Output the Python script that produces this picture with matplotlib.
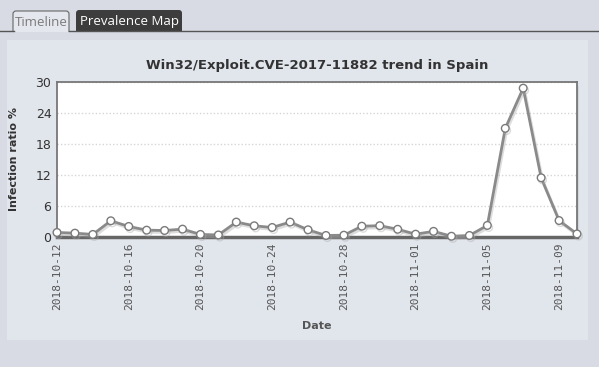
import matplotlib
matplotlib.use('Agg')
import matplotlib.pyplot as plt
import matplotlib.patheffects as pe
from matplotlib.patches import Rectangle, FancyBboxPatch
import pandas as pd

# data
dates = pd.date_range('2018-10-12', '2018-11-10', freq='D')
infection_ratio = [0.78, 0.65, 0.4, 3.05, 1.95, 1.23, 1.17, 1.43, 0.4, 0.3,
                   2.8, 2.08, 1.75, 2.8, 1.3, 0.2, 0.25, 2.0, 2.1, 1.4,
                   0.45, 1.0, 0.05, 0.2, 2.15, 21.0, 28.8, 11.4, 3.1, 0.5]
y_ticks = [0, 6, 12, 18, 24, 30]
title = 'Win32/Exploit.CVE-2017-11882 trend in Spain'

W, H = 599, 367
fig = plt.figure(figsize=(W / 100, H / 100), dpi=100)
fig.patch.set_facecolor('#d8dbe3')

# background decoration (tabs and panel) in pixel coordinates
bg = fig.add_axes([0, 0, 1, 1])
bg.set_xlim(0, W)
bg.set_ylim(H, 0)
bg.axis('off')
bg.add_patch(Rectangle((7, 40), 581, 300, facecolor='#e1e5ec', edgecolor='none'))
bg.add_patch(FancyBboxPatch((13, 11), 56, 24, boxstyle='round,pad=0,rounding_size=3',
                            facecolor='#e4e7ee', edgecolor='#666666', lw=0.8))
bg.text(41, 22, 'Timeline', fontsize=9.5, color='#7a7a7a', ha='center', va='center',
        family='Open Sans')
bg.add_patch(FancyBboxPatch((76, 10), 106, 25, boxstyle='round,pad=0,rounding_size=3',
                            facecolor='#3d3d3d', edgecolor='none'))
bg.add_patch(Rectangle((0, 31.5), W, 10, facecolor='#d8dbe3', edgecolor='none'))
bg.plot([0, 14], [31, 31], color='#555555', lw=1)
bg.plot([69, W], [31, 31], color='#555555', lw=1)
bg.text(129, 22, 'Prevalence Map', fontsize=9.5, color='white', ha='center', va='center',
        family='Open Sans')
bg.add_patch(Rectangle((7, 40), 581, 300, facecolor='#e1e5ec', edgecolor='none'))
# plot shadow
bg.add_patch(FancyBboxPatch((58.5, 83.5), 520, 155, boxstyle='round,pad=0,rounding_size=4',
                            facecolor='#c4c8d0', edgecolor='none'))

ax = fig.add_axes([57 / W, (H - 236.5) / H, 520 / W, 154.5 / H])
ax.set_facecolor('white')
ax.plot(dates, infection_ratio, color='#8a8a8a', lw=2, marker='o', markersize=5.5,
        markerfacecolor='white', markeredgecolor='#7a7a7a', markeredgewidth=1,
        path_effects=[pe.SimpleLineShadow(offset=(1, -1.5), shadow_color='#aaaaaa', alpha=0.4),
                      pe.Normal()], clip_on=False, zorder=3)

ax.set_xlim(dates[0], dates[-1])
ax.set_ylim(0, 30)
ax.set_yticks(y_ticks)
ax.set_yticklabels([str(v) for v in y_ticks], fontsize=9, color='#333333')
tick_dates = dates[::4]
ax.set_xticks(tick_dates)
ax.set_xticklabels([d.strftime('%Y-%m-%d') for d in tick_dates], rotation=90,
                   fontsize=8, color='#555555', family='DejaVu Sans Mono')
ax.tick_params(length=0, pad=4)
ax.grid(axis='y', linestyle=(0, (1, 1.5)), color='#d6d6d6', lw=1)
ax.grid(axis='x', visible=False)
for side in ['left', 'top', 'right']:
    ax.spines[side].set_color('#777777')
    ax.spines[side].set_linewidth(1.3)
ax.spines['bottom'].set_color('#666666')
ax.spines['bottom'].set_linewidth(2.5)

ax.set_title(title, fontsize=9.5, fontweight='bold', color='#333333', pad=9)
ax.set_ylabel('Infection ratio %', fontsize=8, fontweight='bold', color='#333333', labelpad=12)
ax.set_xlabel('Date', fontsize=8, fontweight='bold', color='#555555', labelpad=8)

fig.savefig('out.png', dpi=100, facecolor=fig.get_facecolor())
